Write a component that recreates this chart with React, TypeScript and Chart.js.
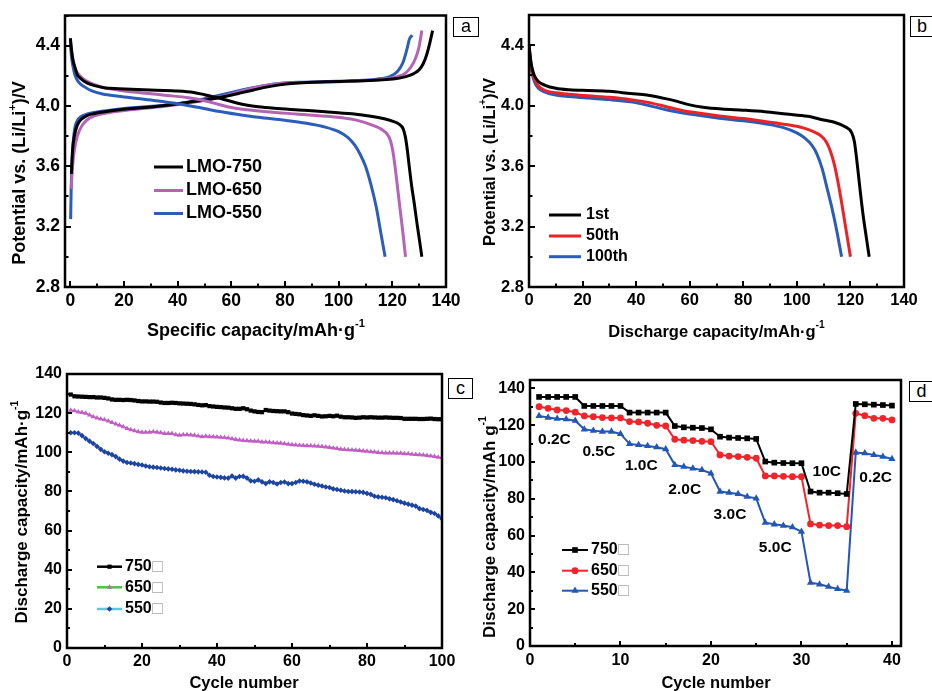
import React, { useEffect, useRef } from 'react';
import { Chart, registerables } from 'chart.js';

Chart.register(...registerables);

const FONT = '"Liberation Sans", Arial, Helvetica, sans-serif';

// ---------------- Panel a: charge / discharge curves [capacity, potential]
const lmo750Discharge: number[][] = [[0,4.45],[0.5,4.36],[1,4.30],[1.8,4.25],[2.5,4.21],[4,4.18],[6,4.155],[9,4.135],[13,4.12],[18,4.115],[25,4.11],[32,4.105],[40,4.10],[46,4.09],[50,4.075],[54,4.058],[58,4.04],[62,4.02],[66,4.005],[70,3.995],[76,3.985],[85,3.974],[95,3.962],[105,3.948],[112,3.932],[117,3.915],[120,3.90],[122.5,3.88],[124,3.85],[124.8,3.80],[125.5,3.72],[126.3,3.60],[127.2,3.47],[128.2,3.35],[129.2,3.22],[130.2,3.10],[131,3.0]];
const lmo650Discharge: number[][] = [[0,4.44],[0.5,4.36],[1.2,4.29],[2,4.24],[3.5,4.20],[5.5,4.17],[8.5,4.145],[13,4.12],[20,4.10],[28,4.085],[36,4.07],[44,4.055],[50,4.035],[55,4.012],[60,3.99],[66,3.975],[73,3.962],[85,3.946],[97,3.93],[104,3.915],[109,3.895],[113,3.87],[116,3.845],[118,3.815],[119.3,3.77],[120.2,3.70],[121,3.60],[122,3.45],[123,3.30],[124,3.15],[124.9,3.0]];
const lmo550Discharge: number[][] = [[0,4.42],[0.4,4.33],[1,4.26],[1.8,4.20],[3,4.16],[5,4.13],[8,4.10],[12,4.08],[18,4.065],[25,4.05],[32,4.035],[40,4.015],[48,3.99],[55,3.965],[62,3.945],[70,3.925],[80,3.905],[88,3.885],[95,3.86],[100,3.83],[103.5,3.79],[106,3.74],[108,3.68],[110,3.60],[112,3.48],[114,3.33],[115.8,3.15],[117.3,3.0]];
const lmo750Charge: number[][] = [[0.4,3.55],[0.8,3.70],[1.5,3.80],[2.5,3.87],[4,3.91],[6,3.935],[9,3.95],[14,3.965],[20,3.978],[28,3.99],[36,4.005],[44,4.025],[52,4.045],[58,4.065],[63,4.085],[68,4.105],[73,4.125],[78,4.14],[85,4.152],[95,4.16],[105,4.165],[115,4.172],[121,4.18],[125,4.195],[128,4.215],[130,4.24],[131.5,4.28],[132.8,4.34],[134,4.42],[135,4.50]];
const lmo650Charge: number[][] = [[0.3,3.45],[0.8,3.60],[1.6,3.72],[2.6,3.80],[4,3.86],[6,3.905],[9,3.935],[14,3.955],[20,3.97],[28,3.985],[36,4.0],[44,4.02],[52,4.045],[58,4.07],[63,4.095],[68,4.12],[74,4.14],[82,4.152],[92,4.158],[102,4.162],[112,4.17],[118,4.18],[122,4.195],[125,4.22],[127,4.26],[128.5,4.31],[129.8,4.38],[131,4.50]];
const lmo550Charge: number[][] = [[0.1,3.25],[0.3,3.45],[0.6,3.62],[1,3.75],[1.6,3.85],[2.5,3.90],[4,3.93],[6,3.945],[10,3.96],[16,3.975],[24,3.99],[32,4.0],[40,4.015],[48,4.04],[54,4.065],[60,4.09],[66,4.115],[72,4.135],[78,4.15],[86,4.158],[96,4.163],[106,4.168],[114,4.178],[119,4.195],[122,4.23],[124,4.29],[125.5,4.38],[126.3,4.44],[127.4,4.47]];

// ---------------- Panel b: discharge curves at cycles
const cycle1st: number[][] = [[0,4.40],[0.5,4.32],[1,4.26],[2,4.20],[3.5,4.16],[6,4.135],[10,4.115],[15,4.105],[22,4.10],[30,4.095],[38,4.08],[44,4.07],[50,4.05],[55,4.03],[60,4.005],[65,3.99],[72,3.978],[80,3.97],[88,3.96],[96,3.945],[104,3.93],[110,3.905],[114,3.89],[118,3.86],[120.5,3.82],[121.5,3.76],[122.5,3.62],[123.5,3.46],[124.7,3.28],[126,3.12],[127,3.0]];
const cycle50th: number[][] = [[0,4.40],[0.5,4.31],[1,4.24],[2,4.18],[3.5,4.13],[6,4.10],[10,4.085],[15,4.075],[22,4.065],[30,4.055],[38,4.04],[45,4.02],[52,3.99],[58,3.965],[64,3.95],[72,3.93],[80,3.915],[88,3.895],[96,3.875],[102,3.855],[106,3.83],[109,3.80],[111,3.76],[112.5,3.70],[114,3.61],[115.3,3.50],[116.5,3.38],[117.8,3.24],[119,3.11],[120,3.0]];
const cycle100th: number[][] = [[0,4.40],[0.5,4.30],[1,4.23],[2,4.16],[3.5,4.115],[6,4.09],[10,4.07],[15,4.06],[22,4.05],[30,4.04],[38,4.025],[45,4.0],[52,3.97],[58,3.95],[64,3.935],[72,3.915],[80,3.90],[88,3.88],[95,3.855],[100,3.82],[103,3.785],[105.5,3.74],[107.5,3.68],[109.5,3.58],[111.2,3.46],[113,3.33],[114.8,3.18],[116.7,3.0]];

// ---------------- Panel c: cycling
const cyclesC = Array.from({ length: 100 }, (_, i) => i + 1);
const c750 = [
  129.5,128.6,128.5,128.4,128.3,128.2,128.2,128.0,128.0,127.8,
  127.5,127.0,126.8,126.8,126.7,126.8,126.7,126.5,126.2,126.0,
  126.0,125.9,125.9,125.8,125.4,125.2,125.2,125.3,125.2,125.0,
  124.9,124.8,124.7,124.5,124.2,124.0,124.1,123.6,123.4,123.2,
  123.1,122.9,122.8,122.5,122.2,122.2,122.5,122.0,121.3,120.9,
  120.6,120.5,121.6,121.3,121.1,121.0,120.9,120.9,120.5,119.8,
  119.6,119.4,119.0,118.8,118.6,118.9,118.6,118.3,118.4,118.6,
  118.4,118.7,118.2,117.9,117.9,117.8,117.6,117.7,117.9,117.8,
  117.9,117.8,117.7,117.7,117.8,117.7,117.6,117.6,117.5,117.1,
  117.1,117.1,117.1,117.0,117.0,117.1,117.2,117.0,116.9,116.9];
const c650 = [
  121.5,121.2,120.6,120.3,119.9,119.0,118.2,117.5,117.0,116.6,
  116.0,115.2,114.5,113.8,113.0,112.2,111.5,111.0,110.5,110.3,
  110.2,110.3,110.5,110.3,110.0,109.6,109.6,109.6,109.0,108.7,
  108.9,108.9,108.8,108.7,108.3,108.0,108.2,108.0,107.9,107.8,
  107.7,107.5,107.3,106.9,106.5,106.3,106.0,105.9,105.8,105.7,
  105.6,105.3,105.2,105.1,104.9,104.8,104.6,104.3,104.1,103.9,
  103.7,103.6,103.5,103.4,103.3,103.2,103.1,102.9,102.7,102.5,
  102.2,101.9,101.6,101.4,101.3,101.2,101.1,100.9,100.7,100.5,
  100.3,100.2,99.9,99.7,99.6,99.6,99.6,99.5,99.5,99.3,
  99.2,99.0,98.9,98.7,98.6,98.4,98.1,97.8,97.5,97.3];
const c550 = [
  110.0,110.0,109.8,108.5,107.0,105.7,104.5,103.0,101.5,100.3,
  99.5,98.8,97.8,96.5,95.5,94.8,94.5,94.2,93.8,93.5,
  93.0,92.6,92.4,92.2,92.0,91.7,91.5,91.3,91.0,90.8,
  90.5,90.3,90.2,90.1,90.0,89.9,89.8,88.3,87.6,87.4,
  87.2,86.9,86.8,87.9,86.8,87.6,87.7,86.8,85.4,85.2,
  85.9,84.9,84.0,84.9,84.6,83.8,84.6,84.8,84.0,84.0,
  84.6,85.3,85.2,84.9,84.3,83.7,83.2,82.8,82.3,82.0,
  81.3,81.0,80.6,80.2,80.0,79.9,79.8,79.7,79.5,79.0,
  78.5,77.5,77.2,77.0,76.8,76.2,75.8,75.2,74.6,74.0,
  73.5,73.0,72.5,71.2,70.8,70.3,69.3,68.7,67.5,66.0];

// ---------------- Panel d: rate capability
const cyclesD = Array.from({ length: 40 }, (_, i) => i + 1);
const d750 = [135.3,135.3,135.3,135.3,135.3,130.4,130.4,130.4,130.4,130.4,126.8,126.8,126.8,126.8,126.8,119.5,118.8,118.6,118.4,117.7,113.7,113.2,113.0,112.8,112.5,100.2,99.6,99.4,99.3,99.3,83.9,83.3,83.3,83.0,82.6,131.5,131.3,131.1,130.9,130.6];
const d650 = [130.0,129.1,128.2,127.9,127.0,125.0,124.6,124.1,123.9,123.9,121.9,121.7,121.0,119.9,119.5,112.3,111.8,111.6,111.2,111.0,103.8,103.2,102.9,102.5,102.0,92.4,92.4,92.2,92.0,92.0,66.3,65.7,65.4,65.4,64.8,126.4,125.1,123.7,123.7,122.8];
const d550 = [125.0,124.1,123.5,123.2,122.4,117.7,117.0,116.5,116.5,115.2,109.8,109.2,108.7,108.0,106.9,98.4,97.4,96.5,95.6,93.8,83.9,83.3,82.6,81.1,80.2,67.0,66.1,65.4,64.5,62.1,34.4,33.5,32.2,31.0,30.1,105.1,104.7,103.8,102.9,101.6];
const rateLabels = ['0.2C', '0.5C', '1.0C', '2.0C', '3.0C', '5.0C', '10C', '0.2C'];
const rateLabelX = [2.7, 7.6, 12.3, 17.1, 22.1, 27.1, 32.8, 38.2];
const rateLabelY = [111.9, 105.5, 97.9, 84.7, 71.2, 53.6, 94.7, 91.4];

// ---------------- helpers
type Seg = { t: string; sup?: boolean };

function drawRich(ctx: CanvasRenderingContext2D, segs: Seg[], cx: number, cy: number, size: number, rotate?: boolean) {
  ctx.save();
  ctx.translate(cx, cy);
  if (rotate) ctx.rotate(-Math.PI / 2);
  const main = `bold ${size}px ${FONT}`;
  const sup = `bold ${size * 0.62}px ${FONT}`;
  let total = 0;
  const widths = segs.map((s) => {
    ctx.font = s.sup ? sup : main;
    const w = ctx.measureText(s.t).width;
    total += w;
    return w;
  });
  let x = -total / 2;
  ctx.textBaseline = 'middle';
  ctx.textAlign = 'left';
  ctx.fillStyle = '#000';
  segs.forEach((s, i) => {
    ctx.font = s.sup ? sup : main;
    ctx.fillText(s.t, x, s.sup ? -size * 0.4 : 0);
    x += widths[i];
  });
  ctx.restore();
}

function drawMarker(ctx: CanvasRenderingContext2D, style: string, x: number, y: number, r: number, color: string) {
  ctx.save();
  ctx.fillStyle = color;
  ctx.beginPath();
  if (style === 'rect') {
    const s = r * Math.SQRT1_2;
    ctx.rect(x - s, y - s, 2 * s, 2 * s);
  } else if (style === 'circle') {
    ctx.arc(x, y, r, 0, Math.PI * 2);
  } else if (style === 'triangle') {
    let a = 0;
    ctx.moveTo(x + Math.sin(a) * r, y - Math.cos(a) * r);
    a += (2 * Math.PI) / 3;
    ctx.lineTo(x + Math.sin(a) * r, y - Math.cos(a) * r);
    a += (2 * Math.PI) / 3;
    ctx.lineTo(x + Math.sin(a) * r, y - Math.cos(a) * r);
    ctx.closePath();
  } else if (style === 'rectRot') {
    ctx.moveTo(x, y - r);
    ctx.lineTo(x + r, y);
    ctx.lineTo(x, y + r);
    ctx.lineTo(x - r, y);
    ctx.closePath();
  }
  ctx.fill();
  ctx.restore();
}

type Spec = {
  titles: { segs: Seg[]; x: number; y: number; size: number; rotate?: boolean }[];
  legend: { x0: number; x1: number; tx: number; rows: number[]; size: number; lineWidth: number };
  notes?: { text: string; x: number; y: number }[];
  noteSize?: number;
  major: number;
  minor: number;
};

function makeDeco(spec: Spec) {
  return {
    id: 'deco',
    afterDraw(chart: any) {
      const ctx: CanvasRenderingContext2D = chart.ctx;
      const a = chart.chartArea;
      const xs = chart.scales.x;
      const ys = chart.scales.y;
      ctx.save();
      ctx.strokeStyle = '#000';
      ctx.lineWidth = 2;
      ctx.beginPath();
      for (const t of xs.ticks) {
        const p = Math.round(xs.getPixelForValue(t.value));
        const len = t.label !== '' ? spec.major : spec.minor;
        ctx.moveTo(p, a.bottom);
        ctx.lineTo(p, a.bottom - len);
      }
      for (const t of ys.ticks) {
        const p = Math.round(ys.getPixelForValue(t.value));
        const len = t.label !== '' ? spec.major : spec.minor;
        ctx.moveTo(a.left, p);
        ctx.lineTo(a.left + len, p);
      }
      ctx.stroke();
      ctx.lineWidth = 2.5;
      ctx.strokeRect(a.left, a.top, a.right - a.left, a.bottom - a.top);

      for (const t of spec.titles) drawRich(ctx, t.segs, t.x, t.y, t.size, t.rotate);

      // legend
      const L = spec.legend;
      const items = chart.data.datasets.filter((d: any) => d.label);
      items.forEach((d: any, i: number) => {
        const y = L.rows[i];
        ctx.strokeStyle = d.legendLineColor || d.borderColor;
        ctx.lineWidth = L.lineWidth;
        ctx.beginPath();
        ctx.moveTo(L.x0, y);
        ctx.lineTo(L.x1, y);
        ctx.stroke();
        if (d.pointRadius > 0) {
          drawMarker(ctx, d.pointStyle, (L.x0 + L.x1) / 2, y, d.legendPointRadius || d.pointRadius, d.pointBackgroundColor);
        }
        const label: string = d.label;
        const main = label.replace('□', '');
        ctx.font = `bold ${L.size}px ${FONT}`;
        ctx.fillStyle = '#000';
        ctx.textBaseline = 'middle';
        ctx.textAlign = 'left';
        ctx.fillText(main, L.tx, y);
        if (label.includes('□')) {
          const w = ctx.measureText(main).width;
          ctx.font = `${L.size * 1.1}px ${FONT}`;
          ctx.fillStyle = '#a8a8a8';
          ctx.fillText('□', L.tx + w + 0.5, y + 0.5);
        }
      });

      // annotations
      if (spec.notes) {
        ctx.font = `bold ${spec.noteSize}px ${FONT}`;
        ctx.fillStyle = '#000';
        ctx.textAlign = 'center';
        ctx.textBaseline = 'middle';
        for (const n of spec.notes) {
          ctx.fillText(n.text, xs.getPixelForValue(n.x), ys.getPixelForValue(n.y));
        }
      }
      ctx.restore();
    },
  };
}

function axis(min: number, max: number, step: number, isMajor: (v: number) => boolean, fmt: (v: number) => string, size: number, pad: number, fit: (s: any) => void) {
  return {
    type: 'linear',
    min,
    max,
    grid: { display: false, drawTicks: false },
    border: { display: false },
    ticks: {
      stepSize: step,
      autoSkip: false,
      includeBounds: false,
      maxRotation: 0,
      minRotation: 0,
      padding: pad,
      color: '#000',
      font: { family: FONT, size, weight: 'bold' },
      callback: (v: number) => (isMajor(v) ? fmt(v) : ''),
    },
    afterFit: fit,
  };
}

type Area = { w: number; h: number; left: number; top: number; right: number; bottom: number };

function baseOptions(area: Area, xAxis: any, yAxis: any) {
  return {
    responsive: false,
    animation: false,
    devicePixelRatio: 1,
    layout: { padding: { top: area.top, right: area.w - area.right, bottom: 0, left: 0 } },
    plugins: { legend: { display: false }, tooltip: { enabled: false } },
    events: [],
    scales: { x: xAxis, y: yAxis },
  };
}

const toXY = (pts: number[][]) => pts.map((p) => ({ x: p[0], y: p[1] }));
const zipXY = (xs: number[], ys: number[]) => xs.map((x, i) => ({ x, y: ys[i] }));

const curve = (label: string, pts: number[][], color: string, width: number) => ({
  label,
  data: toXY(pts),
  borderColor: color,
  backgroundColor: color,
  borderWidth: width,
  pointRadius: 0,
  showLine: true,
  cubicInterpolationMode: 'monotone',
});

const fmt1 = (v: number) => v.toFixed(1);
const fmt0 = (v: number) => String(Math.round(v));
const every = (n: number) => (v: number) => Math.abs(Math.round(v) % n) === 0;

// ---------------- configs
function configA() {
  const area: Area = { w: 466, h: 345, left: 65, top: 15, right: 446, bottom: 287 };
  const x = axis(-2, 140, 10, every(20), fmt0, 17.5, 4, (s: any) => { s.height = area.h - area.bottom; });
  const y = axis(2.8, 4.6, 0.2, (v) => Math.abs(Math.round(v * 10) % 4) === 0, fmt1, 17.5, 5, (s: any) => { s.width = area.left; });
  const purple = '#b463b6';
  const blue = '#2c5db9';
  return {
    type: 'scatter',
    data: {
      datasets: [
        curve('LMO-750', lmo750Discharge, '#000000', 3),
        curve('LMO-650', lmo650Discharge, purple, 3),
        curve('LMO-550', lmo550Discharge, blue, 3),
        curve('', lmo750Charge, '#000000', 3),
        curve('', lmo650Charge, purple, 3),
        curve('', lmo550Charge, blue, 3),
      ],
    },
    options: baseOptions(area, x, y),
    plugins: [makeDeco({
      major: 6, minor: 3.5,
      titles: [
        { segs: [{ t: 'Specific capacity/mAh·g' }, { t: '-1', sup: true }], x: 256, y: 331, size: 18 },
        { segs: [{ t: 'Potential vs. (Li/Li' }, { t: '+', sup: true }, { t: ')/V' }], x: 20, y: 173, size: 18, rotate: true },
      ],
      legend: { x0: 154, x1: 183, tx: 186, rows: [167, 190.5, 213.5], size: 18, lineWidth: 3 },
    })],
  };
}

function configB() {
  const area: Area = { w: 466, h: 345, left: 63, top: 15, right: 438, bottom: 287 };
  const x = axis(0, 140, 10, every(20), fmt0, 16.5, 3.5, (s: any) => { s.height = area.h - area.bottom; });
  const y = axis(2.8, 4.6, 0.2, (v) => Math.abs(Math.round(v * 10) % 4) === 0, fmt1, 16.5, 5, (s: any) => { s.width = area.left; });
  return {
    type: 'scatter',
    data: {
      datasets: [
        curve('1st', cycle1st, '#000000', 3),
        curve('50th', cycle50th, '#ec2227', 3),
        curve('100th', cycle100th, '#2b5cb8', 3),
      ],
    },
    options: baseOptions(area, x, y),
    plugins: [makeDeco({
      major: 6, minor: 3.5,
      titles: [
        { segs: [{ t: 'Discharge capacity/mAh·g' }, { t: '-1', sup: true }], x: 250.5, y: 332, size: 16.5 },
        { segs: [{ t: 'Potential vs. (Li/Li' }, { t: '+', sup: true }, { t: ')/V' }], x: 24, y: 162, size: 16.5, rotate: true },
      ],
      legend: { x0: 83, x1: 115, tx: 120, rows: [215, 236, 256.7], size: 16, lineWidth: 3 },
    })],
  };
}

function configC() {
  const area: Area = { w: 466, h: 346, left: 67, top: 29, right: 442, bottom: 303 };
  const x = axis(0, 100, 10, every(20), fmt0, 16, 4, (s: any) => { s.height = area.h - area.bottom; });
  const y = axis(0, 140, 10, every(20), fmt0, 16, 5, (s: any) => { s.width = area.left; });
  const ser = (label: string, vals: number[], line: string, pt: string, style: string, r: number, legendLine: string) => ({
    label,
    data: zipXY(cyclesC, vals),
    borderColor: line,
    backgroundColor: pt,
    borderWidth: 1.6,
    pointStyle: style,
    pointRadius: r,
    pointBackgroundColor: pt,
    pointBorderColor: pt,
    pointBorderWidth: 0,
    legendLineColor: legendLine,
    showLine: true,
  });
  return {
    type: 'scatter',
    data: {
      datasets: [
        ser('750□', c750, '#000000', '#000000', 'rect', 3, '#000000'),
        ser('650□', c650, '#b04fb2', '#c25fc4', 'triangle', 3, '#52c045'),
        ser('550□', c550, '#1f4fae', '#1c44a0', 'rectRot', 2.8, '#5ccbd9'),
      ],
    },
    options: baseOptions(area, x, y),
    plugins: [makeDeco({
      major: 5, minor: 3,
      titles: [
        { segs: [{ t: 'Cycle number' }], x: 244, y: 338, size: 16.5 },
        { segs: [{ t: 'Discharge capacity/mAh·g' }, { t: '-1', sup: true }], x: 22, y: 167, size: 17, rotate: true },
      ],
      legend: { x0: 97, x1: 122, tx: 125, rows: [221.7, 242.3, 264], size: 16, lineWidth: 2.5 },
    })],
  };
}

function configD() {
  const area: Area = { w: 466, h: 346, left: 64, top: 35, right: 435, bottom: 301 };
  const x = axis(0, 41, 5, every(10), fmt0, 16, 4.5, (s: any) => { s.height = area.h - area.bottom; });
  const y = axis(0, 144.5, 10, every(20), fmt0, 16, 5, (s: any) => { s.width = area.left; });
  const ser = (label: string, vals: number[], color: string, style: string, r: number) => ({
    label,
    data: zipXY(cyclesD, vals),
    borderColor: color,
    backgroundColor: color,
    borderWidth: 2,
    pointStyle: style,
    pointRadius: r,
    pointBackgroundColor: color,
    pointBorderColor: color,
    pointBorderWidth: 0,
    showLine: true,
  });
  return {
    type: 'scatter',
    data: {
      datasets: [
        ser('750□', d750, '#000000', 'rect', 4),
        ser('650□', d650, '#f0242a', 'circle', 3.4),
        ser('550□', d550, '#2456b4', 'triangle', 4.2),
      ],
    },
    options: baseOptions(area, x, y),
    plugins: [makeDeco({
      major: 5, minor: 3,
      titles: [
        { segs: [{ t: 'Cycle number' }], x: 250, y: 338, size: 16.5 },
        { segs: [{ t: 'Discharge capacity/mAh g' }, { t: '-1', sup: true }], x: 24, y: 182, size: 17, rotate: true },
      ],
      legend: { x0: 96, x1: 122, tx: 125, rows: [205, 225.7, 245.7], size: 16, lineWidth: 2 },
      notes: rateLabels.map((t, i) => ({ text: t, x: rateLabelX[i], y: rateLabelY[i] })),
      noteSize: 15.5,
    })],
  };
}

function Panel({ left, top, width, height, build }: { left: number; top: number; width: number; height: number; build: () => any }) {
  const ref = useRef<HTMLCanvasElement>(null);
  useEffect(() => {
    const chart = new Chart(ref.current as HTMLCanvasElement, build());
    return () => chart.destroy();
  }, []);
  return (
    <canvas
      ref={ref}
      width={width}
      height={height}
      style={{ position: 'absolute', left, top, width, height, display: 'block' }}
    />
  );
}

const letterBoxes = [
  { ch: 'a', left: 453, top: 17, w: 26, h: 20 },
  { ch: 'b', left: 910, top: 16, w: 24, h: 21 },
  { ch: 'c', left: 448, top: 378, w: 25, h: 21 },
  { ch: 'd', left: 909, top: 381, w: 25, h: 21 },
];

export default function App() {
  return (
    <div style={{ position: 'absolute', left: 0, top: 0, width: 932, height: 691, background: '#fff', overflow: 'hidden' }}>
      <Panel left={0} top={0} width={466} height={345} build={configA} />
      <Panel left={466} top={0} width={466} height={345} build={configB} />
      <Panel left={0} top={345} width={466} height={346} build={configC} />
      <Panel left={466} top={345} width={466} height={346} build={configD} />
      {letterBoxes.map((b) => (
        <div
          key={b.ch}
          style={{
            position: 'absolute',
            left: b.left,
            top: b.top,
            width: b.w,
            height: b.h,
            boxSizing: 'border-box',
            border: '1.5px solid #000',
            background: '#fff',
            font: `18px ${FONT}`,
            lineHeight: `${b.h - 3}px`,
            textAlign: 'center',
            color: '#000',
          }}
        >
          {b.ch}
        </div>
      ))}
    </div>
  );
}
